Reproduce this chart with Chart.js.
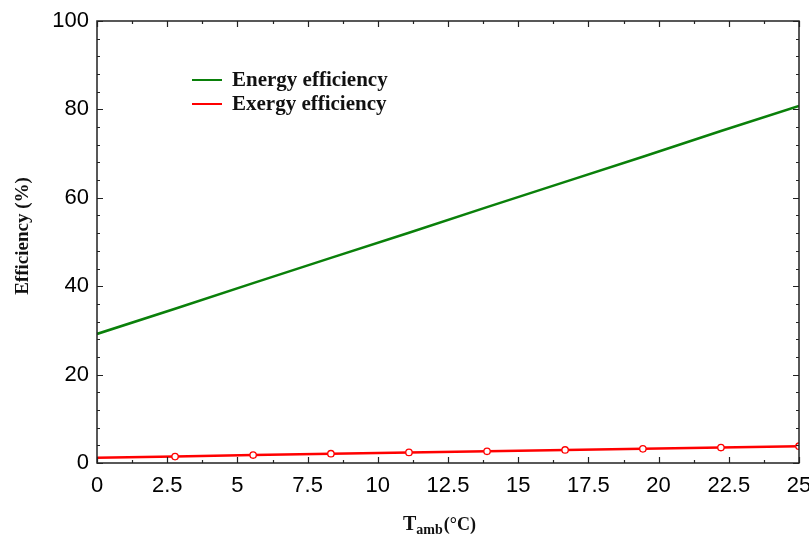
<!DOCTYPE html>
<html><head><meta charset="utf-8">
<script src="https://cdn.jsdelivr.net/npm/chart.js@4.4.0/dist/chart.umd.min.js"></script>
<style>html,body{margin:0;padding:0;background:#fff}#wrap{width:809px;height:539px}</style>
</head><body><div id="wrap"><canvas id="c" width="809" height="539"></canvas></div>
<script>
const tAmb = [0, 2.78, 5.56, 8.33, 11.11, 13.89, 16.67, 19.44, 22.22, 25];
const energyEff = [29.2, 34.9, 40.7, 46.4, 52.1, 57.9, 63.6, 69.3, 75.1, 80.8];
const exergyEff = [1.2, 1.45, 1.8, 2.1, 2.4, 2.65, 2.95, 3.2, 3.5, 3.8];
const xTicks = [0, 2.5, 5, 7.5, 10, 12.5, 15, 17.5, 20, 22.5, 25];
const yTicks = [0, 20, 40, 60, 80, 100];
const seriesLabels = ['Energy efficiency', 'Exergy efficiency'];

const SERIF = '"Liberation Serif","Times New Roman",serif';
const SANS = '"Liberation Sans",Arial,sans-serif';

const framePlugin = {
  id: 'frame',
  afterDatasetsDraw(chart) {
    const {ctx, chartArea: a, scales: {x, y}} = chart;
    ctx.save();
    ctx.strokeStyle = '#222';
    ctx.lineWidth = 1.5;
    ctx.strokeRect(a.left, a.top, a.right - a.left, a.bottom - a.top);
    ctx.lineWidth = 1.2;
    for (let v = 0; v <= 25.001; v += 1.25) {
      const px = Math.round(x.getPixelForValue(v)) + 0.5;
      const major = Math.abs(v / 2.5 - Math.round(v / 2.5)) < 1e-6;
      const len = major ? 6 : 3;
      ctx.beginPath();
      ctx.moveTo(px, a.bottom); ctx.lineTo(px, a.bottom - len);
      ctx.moveTo(px, a.top); ctx.lineTo(px, a.top + len);
      ctx.stroke();
    }
    for (let v = 0; v <= 100.001; v += 4) {
      const py = Math.round(y.getPixelForValue(v)) + 0.5;
      const major = v % 20 === 0;
      const len = major ? 6 : 3;
      ctx.beginPath();
      ctx.moveTo(a.left, py); ctx.lineTo(a.left + len, py);
      ctx.moveTo(a.right, py); ctx.lineTo(a.right - len, py);
      ctx.stroke();
    }
    // legend
    const colors = chart.data.datasets.map(d => d.borderColor);
    ctx.font = 'bold 21px ' + SERIF;
    ctx.textBaseline = 'middle';
    ctx.fillStyle = '#111';
    seriesLabels.forEach((lab, i) => {
      const ly = 80 + i * 24;
      ctx.strokeStyle = colors[i];
      ctx.lineWidth = 2;
      ctx.beginPath(); ctx.moveTo(192, ly); ctx.lineTo(222, ly); ctx.stroke();
      ctx.fillText(lab, 232, ly + 1);
    });
    // x title with subscript
    ctx.textBaseline = 'alphabetic';
    ctx.textAlign = 'left';
    let cx = 403;
    const by = 530;
    ctx.font = 'bold 20px ' + SERIF;
    ctx.fillText('T', cx, by); cx += ctx.measureText('T').width;
    ctx.font = 'bold 14px ' + SERIF;
    ctx.fillText('amb', cx, by + 4); cx += ctx.measureText('amb').width + 1;
    ctx.font = 'bold 18px ' + SERIF;
    ctx.fillText('(°C)', cx, by);
    // y title
    ctx.save();
    ctx.translate(28, 236);
    ctx.rotate(-Math.PI / 2);
    ctx.textAlign = 'center';
    ctx.font = 'bold 19px ' + SERIF;
    ctx.fillText('Efficiency (%)', 0, 0);
    ctx.restore();
    ctx.restore();
  }
};

new Chart(document.getElementById('c'), {
  type: 'line',
  data: {
    labels: tAmb,
    datasets: [
      { label: seriesLabels[0], data: tAmb.map((t, i) => ({x: t, y: energyEff[i]})),
        borderColor: '#0a800a', borderWidth: 2.5, pointRadius: 0, fill: false, tension: 0 },
      { label: seriesLabels[1], data: tAmb.map((t, i) => ({x: t, y: exergyEff[i]})),
        borderColor: '#ff0000', borderWidth: 2.5, pointRadius: tAmb.map((t, i) => i === 0 ? 0 : 3.2),
        pointBackgroundColor: '#fff', pointBorderColor: '#ff0000', pointBorderWidth: 1.3,
        fill: false, tension: 0 }
    ]
  },
  options: {
    responsive: false,
    animation: false,
    devicePixelRatio: 1,
    layout: { padding: { top: 21, right: 10, left: 0, bottom: 0 } },
    plugins: { legend: { display: false }, tooltip: { enabled: false } },
    scales: {
      x: {
        type: 'linear', min: 0, max: 25,
        afterBuildTicks(s) { s.ticks = xTicks.map(v => ({value: v})); },
        afterFit(s) { s.height = 76; s.paddingLeft = 0; s.paddingRight = 0; },
        grid: { display: false, drawTicks: false },
        border: { display: false },
        ticks: { color: '#000', font: { family: SANS, size: 22 }, padding: 10, maxRotation: 0, autoSkip: false,
                 callback: v => String(v) }
      },
      y: {
        min: 0, max: 100,
        afterBuildTicks(s) { s.ticks = yTicks.map(v => ({value: v})); },
        afterFit(s) { s.width = 97; s.paddingTop = 0; s.paddingBottom = 0; },
        grid: { display: false, drawTicks: false },
        border: { display: false },
        ticks: { color: '#000', font: { family: SANS, size: 22 }, padding: 8 }
      }
    }
  },
  plugins: [framePlugin]
});
</script></body></html>
